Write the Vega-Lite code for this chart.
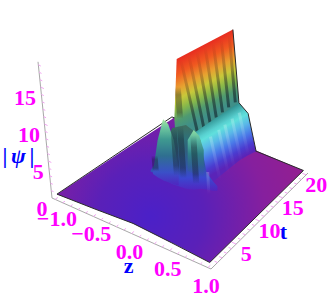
{"$schema":"https://vega.github.io/schema/vega-lite/v6.json","width":332,"height":303,"padding":0,"autosize":"none","background":"white","config":{"view":{"stroke":null}},
"data":{"values":[
{"k":"b","z":-1,"t":0,"p":0.5,"z2":-1,"t2":0,"p2":0.5},{"k":"b","z":-0.5,"t":0,"p":0.8,"z2":-1,"t2":6.44,"p2":0.5},{"k":"b","z":0,"t":0,"p":1.2,"z2":-1,"t2":12.9,"p2":0.5},{"k":"b","z":0.5,"t":0,"p":0.9,"z2":-1,"t2":19.3,"p2":0.5},{"k":"b","z":0.54,"t":0,"p":0.9,"z2":-1,"t2":20,"p2":0.5},{"k":"b","z":1,"t":0,"p":0.5,"z2":-0.47,"t2":20,"p2":0.5},{"k":"b","z":1,"t":20,"p":0.5,"z2":1,"t2":20,"p2":0.5},
{"k":"e","z":-1,"t":0,"p":0.5,"z2":-1,"t2":20,"p2":0.5},{"k":"e","z":-1,"t":0,"p":0.5,"z2":-0.5,"t2":0,"p2":0.8},{"k":"e","z":-0.5,"t":0,"p":0.8,"z2":0,"t2":0,"p2":1.2},{"k":"e","z":0,"t":0,"p":1.2,"z2":0.5,"t2":0,"p2":0.9},{"k":"e","z":0.5,"t":0,"p":0.9,"z2":1,"t2":0,"p2":0.5},{"k":"e","z":1,"t":0,"p":0.5,"z2":1,"t2":20,"p2":0.5},{"k":"e","z":-1,"t":20,"p":0.5,"z2":1,"t2":20,"p2":0.5},
{"k":"a","z":-1.04,"t":-0.4,"p":0,"z2":1.04,"t2":-0.4,"p2":0},{"k":"a","z":1.04,"t":-0.4,"p":0,"z2":1.04,"t2":20.4,"p2":0},{"k":"a","z":-1.04,"t":-0.4,"p":0,"z2":-1.04,"t2":-0.4,"p2":18.4},
{"k":"m","z":-1,"t":-0.4,"p":0,"z2":-1,"t2":0.1,"p2":0},{"k":"m","z":-0.9,"t":-0.4,"p":0,"z2":-0.9,"t2":0,"p2":0},{"k":"m","z":-0.8,"t":-0.4,"p":0,"z2":-0.8,"t2":0,"p2":0},{"k":"m","z":-0.7,"t":-0.4,"p":0,"z2":-0.7,"t2":0,"p2":0},{"k":"m","z":-0.6,"t":-0.4,"p":0,"z2":-0.6,"t2":0,"p2":0},{"k":"m","z":-0.5,"t":-0.4,"p":0,"z2":-0.5,"t2":0.1,"p2":0},{"k":"m","z":-0.4,"t":-0.4,"p":0,"z2":-0.4,"t2":0,"p2":0},{"k":"m","z":-0.3,"t":-0.4,"p":0,"z2":-0.3,"t2":0,"p2":0},{"k":"m","z":-0.2,"t":-0.4,"p":0,"z2":-0.2,"t2":0,"p2":0},{"k":"m","z":-0.1,"t":-0.4,"p":0,"z2":-0.1,"t2":0,"p2":0},{"k":"m","z":0,"t":-0.4,"p":0,"z2":0,"t2":0.1,"p2":0},{"k":"m","z":0.1,"t":-0.4,"p":0,"z2":0.1,"t2":0,"p2":0},{"k":"m","z":0.2,"t":-0.4,"p":0,"z2":0.2,"t2":0,"p2":0},{"k":"m","z":0.3,"t":-0.4,"p":0,"z2":0.3,"t2":0,"p2":0},{"k":"m","z":0.4,"t":-0.4,"p":0,"z2":0.4,"t2":0,"p2":0},{"k":"m","z":0.5,"t":-0.4,"p":0,"z2":0.5,"t2":0.1,"p2":0},{"k":"m","z":0.6,"t":-0.4,"p":0,"z2":0.6,"t2":0,"p2":0},{"k":"m","z":0.7,"t":-0.4,"p":0,"z2":0.7,"t2":0,"p2":0},{"k":"m","z":0.8,"t":-0.4,"p":0,"z2":0.8,"t2":0,"p2":0},{"k":"m","z":0.9,"t":-0.4,"p":0,"z2":0.9,"t2":0,"p2":0},{"k":"m","z":1,"t":-0.4,"p":0,"z2":1,"t2":0.1,"p2":0},
{"k":"m","z":1.04,"t":1,"p":0,"z2":1,"t2":1,"p2":0},{"k":"m","z":1.04,"t":2,"p":0,"z2":1,"t2":2,"p2":0},{"k":"m","z":1.04,"t":3,"p":0,"z2":1,"t2":3,"p2":0},{"k":"m","z":1.04,"t":4,"p":0,"z2":1,"t2":4,"p2":0},{"k":"m","z":1.04,"t":5,"p":0,"z2":0.98,"t2":5,"p2":0},{"k":"m","z":1.04,"t":6,"p":0,"z2":1,"t2":6,"p2":0},{"k":"m","z":1.04,"t":7,"p":0,"z2":1,"t2":7,"p2":0},{"k":"m","z":1.04,"t":8,"p":0,"z2":1,"t2":8,"p2":0},{"k":"m","z":1.04,"t":9,"p":0,"z2":1,"t2":9,"p2":0},{"k":"m","z":1.04,"t":10,"p":0,"z2":0.98,"t2":10,"p2":0},{"k":"m","z":1.04,"t":11,"p":0,"z2":1,"t2":11,"p2":0},{"k":"m","z":1.04,"t":12,"p":0,"z2":1,"t2":12,"p2":0},{"k":"m","z":1.04,"t":13,"p":0,"z2":1,"t2":13,"p2":0},{"k":"m","z":1.04,"t":14,"p":0,"z2":1,"t2":14,"p2":0},{"k":"m","z":1.04,"t":15,"p":0,"z2":0.98,"t2":15,"p2":0},{"k":"m","z":1.04,"t":16,"p":0,"z2":1,"t2":16,"p2":0},{"k":"m","z":1.04,"t":17,"p":0,"z2":1,"t2":17,"p2":0},{"k":"m","z":1.04,"t":18,"p":0,"z2":1,"t2":18,"p2":0},{"k":"m","z":1.04,"t":19,"p":0,"z2":1,"t2":19,"p2":0},{"k":"m","z":1.04,"t":20,"p":0,"z2":0.98,"t2":20,"p2":0},
{"k":"m","z":-1.04,"t":-0.4,"p":1,"z2":-1.01,"t2":-0.4,"p2":1},{"k":"m","z":-1.04,"t":-0.4,"p":2,"z2":-1.01,"t2":-0.4,"p2":2},{"k":"m","z":-1.04,"t":-0.4,"p":3,"z2":-1.01,"t2":-0.4,"p2":3},{"k":"m","z":-1.04,"t":-0.4,"p":4,"z2":-1.01,"t2":-0.4,"p2":4},{"k":"m","z":-1.04,"t":-0.4,"p":5,"z2":-1,"t2":-0.4,"p2":5},{"k":"m","z":-1.04,"t":-0.4,"p":6,"z2":-1.01,"t2":-0.4,"p2":6},{"k":"m","z":-1.04,"t":-0.4,"p":7,"z2":-1.01,"t2":-0.4,"p2":7},{"k":"m","z":-1.04,"t":-0.4,"p":8,"z2":-1.01,"t2":-0.4,"p2":8},{"k":"m","z":-1.04,"t":-0.4,"p":9,"z2":-1.01,"t2":-0.4,"p2":9},{"k":"m","z":-1.04,"t":-0.4,"p":10,"z2":-1,"t2":-0.4,"p2":10},{"k":"m","z":-1.04,"t":-0.4,"p":11,"z2":-1.01,"t2":-0.4,"p2":11},{"k":"m","z":-1.04,"t":-0.4,"p":12,"z2":-1.01,"t2":-0.4,"p2":12},{"k":"m","z":-1.04,"t":-0.4,"p":13,"z2":-1.01,"t2":-0.4,"p2":13},{"k":"m","z":-1.04,"t":-0.4,"p":14,"z2":-1.01,"t2":-0.4,"p2":14},{"k":"m","z":-1.04,"t":-0.4,"p":15,"z2":-1,"t2":-0.4,"p2":15},{"k":"m","z":-1.04,"t":-0.4,"p":16,"z2":-1.01,"t2":-0.4,"p2":16},{"k":"m","z":-1.04,"t":-0.4,"p":17,"z2":-1.01,"t2":-0.4,"p2":17},{"k":"m","z":-1.04,"t":-0.4,"p":18,"z2":-1.01,"t2":-0.4,"p2":18},
{"k":"w","z":-0.19,"t":11.2,"p":8.4,"z2":-0.19,"t2":11.2,"p2":8.4},{"k":"w","z":-0.128,"t":11.6,"p":17,"z2":-0.19,"t2":11.2,"p2":4},{"k":"w","z":0.04,"t":20,"p":17,"z2":0.045,"t2":20,"p2":3},{"k":"w","z":0.06,"t":20,"p":6.6,"z2":0.06,"t2":20,"p2":5},
{"k":"d","z":0.028,"t":19.4,"p":16.5,"z2":0.055,"t2":19.4,"p2":7},{"k":"d","z":0.004,"t":18.2,"p":16.5,"z2":0.05,"t2":18.2,"p2":7},{"k":"d","z":-0.02,"t":17,"p":16.5,"z2":0.05,"t2":17,"p2":7},{"k":"d","z":-0.044,"t":15.8,"p":16.5,"z2":0.05,"t2":15.8,"p2":7},{"k":"d","z":-0.068,"t":14.6,"p":16.5,"z2":0.05,"t2":14.6,"p2":7},{"k":"d","z":-0.092,"t":13.4,"p":16.5,"z2":0.05,"t2":13.4,"p2":7},{"k":"d","z":-0.116,"t":12.2,"p":16.5,"z2":0.05,"t2":12.2,"p2":7},
{"k":"s","z":0.02,"t":11.9,"p":7,"z2":0.25,"t2":11,"p2":0.5},{"k":"s","z":0.04,"t":14.5,"p":7,"z2":0.25,"t2":12,"p2":0.5},{"k":"s","z":0.06,"t":20,"p":6.6,"z2":0.25,"t2":17.6,"p2":0.5},{"k":"s","z":0.19,"t":20,"p":5.6,"z2":0.27,"t2":19,"p2":0.5},{"k":"s","z":0.28,"t":20,"p":0.5,"z2":0.28,"t2":20,"p2":0.5},
{"k":"g","z":0.04,"t":20,"p":17,"z2":0.06,"t2":20,"p2":6.6},{"k":"g","z":0.06,"t":20,"p":6.6,"z2":0.19,"t2":20,"p2":5.6},{"k":"g","z":0.19,"t":20,"p":5.6,"z2":0.28,"t2":20,"p2":0.5},
{"k":"n","z":-0.49,"t":10,"p":0.6,"z2":-0.49,"t2":9,"p2":1},{"k":"n","z":-0.374,"t":10,"p":2.5,"z2":-0.374,"t2":9,"p2":1},{"k":"n","z":-0.135,"t":10,"p":8.14,"z2":-0.135,"t2":9,"p2":0.8},{"k":"n","z":0.062,"t":10,"p":9.5,"z2":0.062,"t2":9,"p2":1},{"k":"n","z":0.166,"t":10,"p":9.15,"z2":0.166,"t2":9,"p2":1.3},{"k":"n","z":0.25,"t":10,"p":8.26,"z2":0.25,"t2":9,"p2":1.8},{"k":"n","z":0.312,"t":10,"p":3.9,"z2":0.312,"t2":9,"p2":2},{"k":"n","z":0.395,"t":10,"p":3,"z2":0.395,"t2":9,"p2":2.2},{"k":"n","z":0.458,"t":10,"p":2.5,"z2":0.458,"t2":9,"p2":2.5},
{"k":"o","z":-0.416,"t":10,"p":3,"z2":-0.416,"t2":10,"p2":0.8},{"k":"o","z":-0.114,"t":10,"p":8.5,"z2":-0.114,"t2":10,"p2":1.5},{"k":"o","z":-0.021,"t":10,"p":9,"z2":-0.021,"t2":10,"p2":1.5},{"k":"o","z":0.156,"t":10,"p":8.5,"z2":0.156,"t2":10,"p2":1.5},{"k":"o","z":-0.14,"t":11.6,"p":13,"z2":-0.14,"t2":11.6,"p2":8.5},
{"k":"r","z":-0.458,"t":10,"p":0.5,"z2":-0.458,"t2":9,"p2":0.8},{"k":"r","z":-0.354,"t":10,"p":5.4,"z2":-0.354,"t2":9,"p2":0.8},{"k":"r","z":-0.254,"t":10,"p":8.8,"z2":-0.254,"t2":9,"p2":0.8},{"k":"r","z":-0.187,"t":10,"p":8.46,"z2":-0.187,"t2":9,"p2":0.8},{"k":"r","z":-0.125,"t":10,"p":6.5,"z2":-0.125,"t2":9,"p2":0.8},{"k":"r","z":-0.083,"t":10,"p":2.4,"z2":-0.083,"t2":9,"p2":0.8},
{"k":"y","z":0.073,"t":10,"p":7.4,"z2":0.073,"t2":10,"p2":3},{"k":"y","z":0.166,"t":10,"p":9.3,"z2":0.166,"t2":10,"p2":3},{"k":"y","z":0.239,"t":10,"p":8.8,"z2":0.239,"t2":10,"p2":3},{"k":"y","z":0.291,"t":10,"p":7,"z2":0.291,"t2":10,"p2":3},
{"k":"h","z":0.17,"t":13,"p":6.5,"z2":0.27,"t2":13,"p2":0.8},{"k":"h","z":0.17,"t":14.6,"p":6.5,"z2":0.27,"t2":14.6,"p2":0.8},{"k":"h","z":0.17,"t":15.8,"p":6.5,"z2":0.27,"t2":15.8,"p2":0.8},{"k":"h","z":0.17,"t":17.2,"p":6.5,"z2":0.27,"t2":17.2,"p2":0.8},{"k":"h","z":0.17,"t":18.6,"p":6.5,"z2":0.27,"t2":18.6,"p2":0.8},{"k":"h","z":0.33,"t":10,"p":4,"z2":0.33,"t2":10,"p2":0.8},
{"k":"lz","label":"−1.0","z":-0.95,"t":-0.4,"p":0},{"k":"lz","label":"−0.5","z":-0.5,"t":-0.4,"p":0},{"k":"lz","label":"0.0","z":0,"t":-0.4,"p":0},{"k":"lz","label":"0.5","z":0.5,"t":-0.4,"p":0},{"k":"lz","label":"1.0","z":1,"t":-0.4,"p":0},
{"k":"lt","label":"5","z":1.04,"t":5,"p":0},{"k":"lt","label":"10","z":1.04,"t":10,"p":0},{"k":"lt","label":"15","z":1.04,"t":15,"p":0},{"k":"lt","label":"20","z":1.04,"t":20,"p":0},
{"k":"lp","label":"0","z":-1.04,"t":-0.4,"p":0},{"k":"lp","label":"5","z":-1.04,"t":-0.4,"p":5},{"k":"lp","label":"10","z":-1.04,"t":-0.4,"p":10},{"k":"lp","label":"15","z":-1.04,"t":-0.4,"p":15},
{"k":"tp","label":"ψ","z":-1.04,"t":-0.4,"p":6},{"k":"tb","label":"|\u00a0\u00a0\u00a0\u00a0|","z":-1.04,"t":-0.4,"p":6},{"k":"tz","label":"z","z":0,"t":-0.4,"p":0},{"k":"tt","label":"t","z":1.04,"t":10,"p":0}
]},
"transform":[
{"calculate":"(datum.z+1.04)/2.08","as":"u"},
{"calculate":"(datum.t+0.4)/20.8","as":"v"},
{"calculate":"(datum.z2+1.04)/2.08","as":"ub"},
{"calculate":"(datum.t2+0.4)/20.8","as":"vb"},
{"calculate":"(1-datum.v)*(52+159*datum.u)+datum.v*(172+136*datum.u)+datum.p*(0.6*datum.u-0.76)","as":"px"},
{"calculate":"(1-datum.v)*(198+71*datum.u)+datum.v*(118+55*datum.u)-datum.p*(7.4-0.8*datum.u)","as":"py"},
{"calculate":"(1-datum.vb)*(52+159*datum.ub)+datum.vb*(172+136*datum.ub)+datum.p2*(0.6*datum.ub-0.76)","as":"qx"},
{"calculate":"(1-datum.vb)*(198+71*datum.ub)+datum.vb*(118+55*datum.ub)-datum.p2*(7.4-0.8*datum.ub)","as":"qy"}
],
"encoding":{"x":{"field":"px","type":"quantitative","axis":null,"scale":{"domain":[0,332],"range":[0,332],"zero":false,"nice":false}},"y":{"field":"py","type":"quantitative","axis":null,"scale":{"domain":[0,303],"range":[0,303],"zero":false,"nice":false}}},
"layer":[
{"transform":[{"filter":"datum.k=='a'"}],"mark":{"type":"rule","color":"#a8a8a8","strokeWidth":1},"encoding":{"x2":{"field":"qx"},"y2":{"field":"qy"}}},
{"transform":[{"filter":"datum.k=='m'"}],"mark":{"type":"rule","color":"#f2a6f2","strokeWidth":1},"encoding":{"x2":{"field":"qx"},"y2":{"field":"qy"}}},
{"transform":[{"filter":"datum.k=='b'"}],"mark":{"type":"area","color":{"gradient":"radial","x1":0.38,"y1":0.61,"r1":0,"x2":0.38,"y2":0.61,"r2":0.62,"stops":[{"offset":0,"color":"#4b20c8"},{"offset":0.35,"color":"#5a20b8"},{"offset":0.75,"color":"#861f9e"},{"offset":1,"color":"#921f92"}]}},"encoding":{"y2":{"field":"qy"}}},
{"transform":[{"filter":"datum.k=='e'"}],"mark":{"type":"rule","color":"#2a2a2a","strokeWidth":1},"encoding":{"x2":{"field":"qx"},"y2":{"field":"qy"}}},
{"transform":[{"filter":"datum.k=='w'"}],"mark":{"type":"area","color":{"gradient":"linear","x1":0.938,"y1":0,"x2":1.093,"y2":0.549,"stops":[{"offset":0,"color":"#e83020"},{"offset":0.2,"color":"#f05a20"},{"offset":0.4,"color":"#e8a030"},{"offset":0.55,"color":"#c8c83a"},{"offset":0.7,"color":"#88b84a"},{"offset":0.85,"color":"#4f9a70"},{"offset":1,"color":"#3f8f88"}]}},"encoding":{"y2":{"field":"qy"}}},
{"transform":[{"filter":"datum.k=='d'"}],"mark":{"type":"rule","strokeWidth":3,"stroke":{"gradient":"linear","x1":0,"y1":0,"x2":0,"y2":1,"stops":[{"offset":0,"color":"rgba(0,0,0,0)"},{"offset":0.3,"color":"rgba(40,20,20,0.2)"},{"offset":0.6,"color":"rgba(20,20,30,0.42)"},{"offset":1,"color":"rgba(10,20,30,0.55)"}]}},"encoding":{"x2":{"field":"qx"},"y2":{"field":"qy"}}},
{"transform":[{"filter":"datum.k=='s'"}],"mark":{"type":"area","color":{"gradient":"linear","x1":0.726,"y1":0,"x2":0.958,"y2":0.554,"stops":[{"offset":0,"color":"#2f8f8f"},{"offset":0.2,"color":"#58d0d0"},{"offset":0.28,"color":"#60e0dc"},{"offset":0.45,"color":"#5ab8e8"},{"offset":0.65,"color":"#4a78e8"},{"offset":0.85,"color":"#4a3cd0"},{"offset":1,"color":"#5a24b8"}]}},"encoding":{"y2":{"field":"qy"}}},
{"transform":[{"filter":"datum.k=='g'"}],"mark":{"type":"rule","color":"#2a2a2a","strokeWidth":1},"encoding":{"x2":{"field":"qx"},"y2":{"field":"qy"}}},
{"transform":[{"filter":"datum.k=='n'"}],"mark":{"type":"area","color":{"gradient":"linear","x1":0,"y1":0,"x2":0,"y2":1,"stops":[{"offset":0,"color":"#3f6f60"},{"offset":0.2,"color":"#2f7078"},{"offset":0.4,"color":"#2f5f80"},{"offset":0.6,"color":"#2f58a0"},{"offset":0.8,"color":"#3a48d0"},{"offset":1,"color":"#5224c0"}]}},"encoding":{"y2":{"field":"qy"}}},
{"transform":[{"filter":"datum.k=='y'"}],"mark":{"type":"area","color":{"gradient":"linear","x1":0,"y1":0,"x2":0,"y2":1,"stops":[{"offset":0,"color":"#90dca0"},{"offset":0.2,"color":"#58b8a0"},{"offset":0.5,"color":"#2f7f88"},{"offset":1,"color":"rgba(47,90,140,0)"}]}},"encoding":{"y2":{"field":"qy"}}},
{"transform":[{"filter":"datum.k=='r'"}],"mark":{"type":"area","color":{"gradient":"linear","x1":0,"y1":0,"x2":0,"y2":1,"stops":[{"offset":0,"color":"#a8e8a0"},{"offset":0.12,"color":"#70c8a0"},{"offset":0.3,"color":"#3f9a90"},{"offset":0.55,"color":"#2f6f90"},{"offset":0.8,"color":"#3a50c8"},{"offset":1,"color":"#5024c0"}]}},"encoding":{"y2":{"field":"qy"}}},
{"transform":[{"filter":"datum.k=='o'"}],"mark":{"type":"rule","strokeWidth":6,"stroke":{"gradient":"linear","x1":0,"y1":0,"x2":0,"y2":1,"stops":[{"offset":0,"color":"rgba(20,20,30,0)"},{"offset":0.25,"color":"rgba(20,20,30,0.35)"},{"offset":0.8,"color":"rgba(20,20,30,0.35)"},{"offset":1,"color":"rgba(20,20,30,0)"}]}},"encoding":{"x2":{"field":"qx"},"y2":{"field":"qy"}}},
{"transform":[{"filter":"datum.k=='h'"}],"mark":{"type":"rule","strokeWidth":3,"stroke":{"gradient":"linear","x1":0,"y1":0,"x2":0,"y2":1,"stops":[{"offset":0,"color":"rgba(255,255,255,0.22)"},{"offset":1,"color":"rgba(255,255,255,0)"}]}},"encoding":{"x2":{"field":"qx"},"y2":{"field":"qy"}}},
{"transform":[{"filter":"datum.k=='lz'"}],"mark":{"type":"text","font":"Liberation Serif","fontWeight":"bold","fontSize":22,"color":"#ff00ff","dx":-2,"dy":18,"align":"center","baseline":"middle"},"encoding":{"text":{"field":"label"}}},
{"transform":[{"filter":"datum.k=='lt'"}],"mark":{"type":"text","font":"Liberation Serif","fontWeight":"bold","fontSize":22,"color":"#ff00ff","dx":10,"dy":10,"align":"center","baseline":"middle"},"encoding":{"text":{"field":"label"}}},
{"transform":[{"filter":"datum.k=='lp'"}],"mark":{"type":"text","font":"Liberation Serif","fontWeight":"bold","fontSize":22,"color":"#ff00ff","dx":-4.5,"dy":11,"align":"right","baseline":"middle"},"encoding":{"text":{"field":"label"}}},
{"transform":[{"filter":"datum.k=='tp'"}],"mark":{"type":"text","font":"Liberation Serif","fontWeight":"bold","fontStyle":"italic","fontSize":22,"color":"#0000ff","dx":-29,"dy":2,"align":"center","baseline":"middle"},"encoding":{"text":{"field":"label"}}},
{"transform":[{"filter":"datum.k=='tb'"}],"mark":{"type":"text","font":"Liberation Serif","fontWeight":"bold","fontSize":22,"color":"#0000ff","dx":-29,"dy":2,"align":"center","baseline":"middle"},"encoding":{"text":{"field":"label"}}},
{"transform":[{"filter":"datum.k=='tz'"}],"mark":{"type":"text","font":"Liberation Serif","fontWeight":"bold","fontSize":22,"color":"#0000ff","dx":-3,"dy":32,"align":"center","baseline":"middle"},"encoding":{"text":{"field":"label"}}},
{"transform":[{"filter":"datum.k=='tt'"}],"mark":{"type":"text","font":"Liberation Serif","fontWeight":"bold","fontSize":22,"color":"#0000ff","dx":24,"dy":11,"align":"center","baseline":"middle"},"encoding":{"text":{"field":"label"}}}
]}
